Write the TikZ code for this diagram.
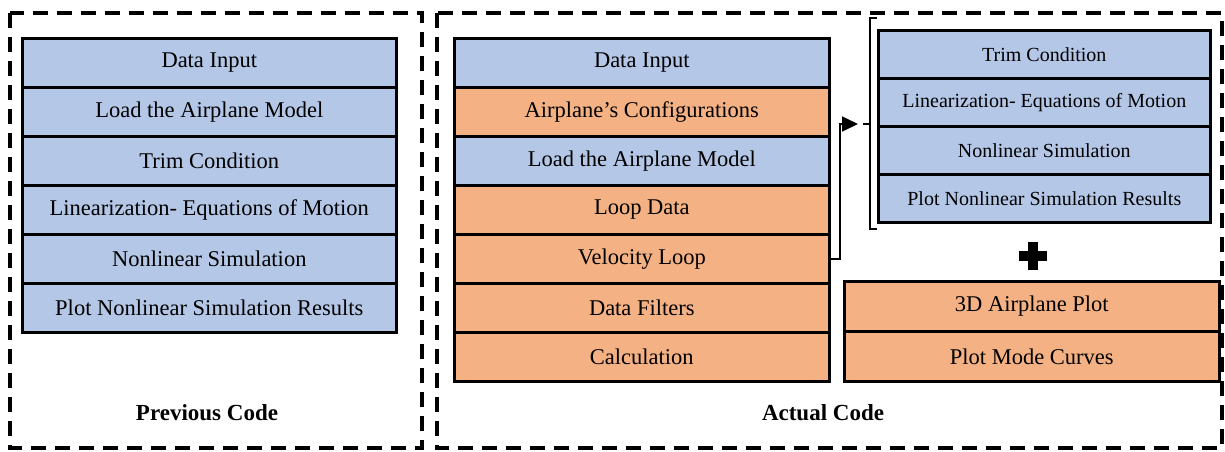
\documentclass[tikz,border=0pt]{standalone}
\usepackage{fontspec}
\setmainfont{Liberation Serif}
\usetikzlibrary{arrows.meta}
\definecolor{bl}{HTML}{B4C7E7}
\definecolor{orn}{HTML}{F4B183}
\tikzset{
  row/.style={draw=black, line width=2.6pt, anchor=north west, inner sep=0pt,
    minimum height=49pt, font=\fontsize{22.5}{26}\selectfont},
  lrow/.style={row, minimum width=374pt},
  mrow/.style={row, minimum width=375pt},
  rrow/.style={row, minimum width=332pt, minimum height=48pt, font=\fontsize{20}{24}\selectfont},
  brow/.style={row, minimum width=375pt, minimum height=50pt},
  frame/.style={draw=black, line width=3.2pt, dash pattern=on 15pt off 9pt},
  title/.style={font=\bfseries\fontsize{23}{27}\selectfont, inner sep=0pt},
  conn/.style={draw=black, line width=1.8pt},
}
\begin{document}
\begin{tikzpicture}[x=1pt,y=-1pt]
\useasboundingbox (0,0) rectangle (1225,451);
% frames
\draw[frame] (10,13) rectangle (422,448);
\draw[frame] (437,13) rectangle (1222,448);
% left stack
\node[lrow, fill=bl] (l1) at (21,37) {Data Input};
\node[lrow, fill=bl] (l2) at (21,86) {Load the Airplane Model};
\node[lrow, fill=bl] (l3) at (21,135) {Trim Condition};
\node[lrow, fill=bl] (l4) at (21,184) {Linearization- Equations of Motion};
\node[lrow, fill=bl] (l5) at (21,233) {Nonlinear Simulation};
\node[lrow, fill=bl] (l6) at (21,282) {Plot Nonlinear Simulation Results};
\node[title] (prev) at (207,413) {Previous Code};
% middle stack
\node[mrow, fill=bl] (m1) at (453,37) {Data Input};
\node[mrow, fill=orn] (m2) at (453,86) {Airplane’s Configurations};
\node[mrow, fill=bl] (m3) at (453,135) {Load the Airplane Model};
\node[mrow, fill=orn] (m4) at (453,184) {Loop Data};
\node[mrow, fill=orn] (m5) at (453,233) {Velocity Loop};
\node[mrow, fill=orn] (m6) at (453,282) {Data Filters};
\node[mrow, fill=orn] (m7) at (453,331) {Calculation};
\node[title] (act) at (823,413) {Actual Code};
% right top stack
\node[rrow, fill=bl] (r1) at (877,29) {Trim Condition};
\node[rrow, fill=bl] (r2) at (877,77) {Linearization- Equations of Motion};
\node[rrow, fill=bl] (r3) at (877,125) {Nonlinear Simulation};
\node[rrow, fill=bl] (r4) at (877,173) {Plot Nonlinear Simulation Results};
% bracket
\coordinate (bt) at (870,18);
\coordinate (bb) at (870,229);
\coordinate (bm) at (863,124);
\draw[conn] (877,18) -- (bt) -- (bb) -- (877,229);
\draw[conn] (bm) -- (870,124);
% arrow
\coordinate (tip) at (858,124);
\draw[conn, -{Triangle[length=16pt,width=15pt]}] (m5.east) -- ++(9,0) |- (tip);
% plus
\fill[black] (1019,251) rectangle (1047,261);
\fill[black] (1028,242) rectangle (1038,270);
% bottom right stack
\node[brow, fill=orn] (b1) at (843,280) {3D Airplane Plot};
\node[brow, fill=orn] (b2) at (843,330) {Plot Mode Curves};
\end{tikzpicture}
\end{document}
